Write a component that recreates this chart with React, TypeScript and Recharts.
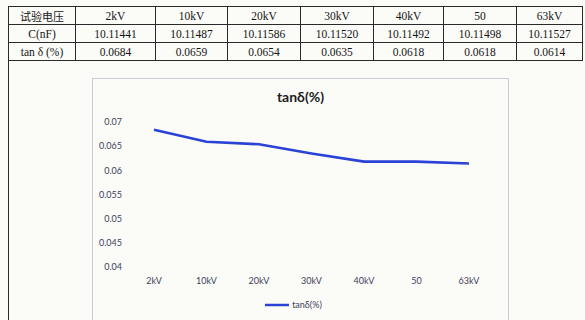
import React from "react";
import { LineChart, Line, XAxis, YAxis, Legend } from "recharts";

const headerLabel = "试验电压";
const voltages = ["2kV", "10kV", "20kV", "30kV", "40kV", "50", "63kV"];
const capacitance = ["10.11441", "10.11487", "10.11586", "10.11520", "10.11492", "10.11498", "10.11527"];
const tanDelta = [0.0684, 0.0659, 0.0654, 0.0635, 0.0618, 0.0618, 0.0614];
const yTicks = [0.04, 0.045, 0.05, 0.055, 0.06, 0.065, 0.07];

const colWidths = [67, 80, 72, 73, 73, 70, 73, 66];
const LINE_COLOR = "#2a42d6";
const AXIS_TEXT = "#3c4158";

const chartData = voltages.map((v, i) => ({ name: v, value: tanDelta[i] }));

const cellStyle: React.CSSProperties = {
  border: "1px solid #2a2a2a",
  textAlign: "center",
  padding: 0,
  height: 17,
  fontFamily: "'Liberation Serif', serif",
  fontSize: 11.5,
  color: "#151515",
};

const LegendContent = () => (
  <div style={{ display: "flex", justifyContent: "center", alignItems: "center" }}>
    <svg width={24} height={10} style={{ marginRight: 3 }}>
      <line x1={0} y1={5} x2={24} y2={5} stroke={LINE_COLOR} strokeWidth={2.5} />
    </svg>
    <span style={{ fontFamily: "Lato, sans-serif", fontSize: 9, color: AXIS_TEXT }}>tanδ(%)</span>
  </div>
);

const App: React.FC = () => {
  return (
    <div
      style={{
        position: "fixed",
        left: 0,
        top: 0,
        width: 585,
        height: 320,
        overflow: "hidden",
        background: "#fbfbf8",
      }}
    >
      <table
        style={{
          position: "absolute",
          left: 8,
          top: 6,
          borderCollapse: "collapse",
          tableLayout: "fixed",
          width: 574,
        }}
      >
        <colgroup>
          {colWidths.map((w, i) => (
            <col key={i} style={{ width: w }} />
          ))}
        </colgroup>
        <tbody>
          <tr>
            <td style={{ ...cellStyle, fontFamily: "'Noto Sans CJK SC', sans-serif", fontSize: 11 }}>
              {headerLabel}
            </td>
            {voltages.map((v) => (
              <td key={v} style={cellStyle}>{v}</td>
            ))}
          </tr>
          <tr>
            <td style={cellStyle}>C(nF)</td>
            {capacitance.map((c, i) => (
              <td key={i} style={cellStyle}>{c}</td>
            ))}
          </tr>
          <tr>
            <td style={cellStyle}>tan δ (%)</td>
            {tanDelta.map((t, i) => (
              <td key={i} style={cellStyle}>{t.toFixed(4)}</td>
            ))}
          </tr>
        </tbody>
      </table>

      {/* lower frame */}
      <div
        style={{
          position: "absolute",
          left: 8,
          top: 59,
          width: 574,
          height: 300,
          borderLeft: "1px solid #2a2a2a",
        }}
      />

      {/* chart area */}
      <div
        style={{
          position: "absolute",
          left: 92,
          top: 78,
          width: 417,
          height: 260,
          border: "1px solid #c9ccd8",
          boxSizing: "border-box",
        }}
      />
      <div
        style={{
          position: "absolute",
          left: 92,
          top: 88,
          width: 417,
          textAlign: "center",
          fontFamily: "Lato, sans-serif",
          fontWeight: 700,
          fontSize: 14,
          color: "#1c1c24",
        }}
      >
        tanδ(%)
      </div>

      <div style={{ position: "absolute", left: 92, top: 78 }}>
        <LineChart
          width={417}
          height={242}
          data={chartData}
          margin={{ top: 44, right: 14, left: 0, bottom: 1 }}
        >
          <XAxis
            dataKey="name"
            axisLine={false}
            tickLine={false}
            tickSize={0}
            tickMargin={11}
            height={32}
            interval={0}
            padding={{ left: 26, right: 26 }}
            tick={{ fontFamily: "Lato, sans-serif", fontSize: 9, fill: AXIS_TEXT }}
          />
          <YAxis
            domain={[0.04, 0.07]}
            ticks={yTicks}
            axisLine={false}
            tickLine={false}
            tickSize={0}
            tickMargin={6}
            width={36}
            tick={{ fontFamily: "Lato, sans-serif", fontSize: 9, fill: AXIS_TEXT }}
          />
          <Legend verticalAlign="bottom" height={20} content={LegendContent} />
          <Line
            type="linear"
            dataKey="value"
            stroke={LINE_COLOR}
            strokeWidth={2.6}
            dot={false}
            isAnimationActive={false}
          />
        </LineChart>
      </div>
    </div>
  );
};

export default App;
